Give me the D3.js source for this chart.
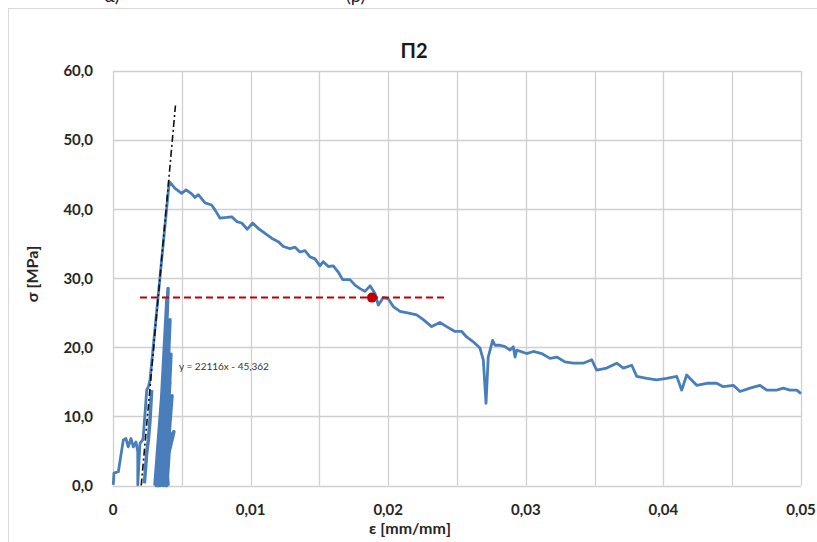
<!DOCTYPE html>
<html>
<head>
<meta charset="utf-8">
<script src="https://cdn.jsdelivr.net/npm/d3@7"></script>
<style>
  body { margin: 0; background: #fff; }
  svg { display: block; font-family: Lato, "Open Sans", sans-serif; }
</style>
</head>
<body>
<svg id="chart" width="817" height="542"></svg>
<script>
'use strict';
// main curve: early loading, final loading to peak, then softening branch
const strain = [0.00002, 0.00007, 0.00039, 0.00075, 0.00094, 0.00111, 0.00131, 0.00148, 0.00167, 0.00180,
  0.00180, 0.00196, 0.00216, 0.00220, 0.00233, 0.00245, 0.00257, 0.00269, 0.00409,
  0.00451, 0.00499, 0.00531, 0.00572, 0.00596, 0.00620, 0.00669, 0.00717, 0.00741, 0.00778,
  0.00826, 0.00863, 0.00899, 0.00935, 0.00976, 0.01015, 0.01056, 0.01105, 0.01153, 0.01201,
  0.01238, 0.01286, 0.01323, 0.01359, 0.01395, 0.01432, 0.01468, 0.01504, 0.01528, 0.01565,
  0.01601, 0.01637, 0.01669, 0.01722, 0.01759, 0.01795, 0.01831, 0.01868, 0.01904, 0.01928,
  0.01964, 0.02001, 0.02037, 0.02086, 0.02158, 0.02207, 0.02255, 0.02316, 0.02376, 0.02425,
  0.02485, 0.02534, 0.02570, 0.02618, 0.02667, 0.02691, 0.02711, 0.02727, 0.02759, 0.02776,
  0.02813, 0.02849, 0.02885, 0.02909, 0.02922, 0.02934, 0.03006, 0.03055, 0.03115, 0.03176,
  0.03225, 0.03285, 0.03345, 0.03418, 0.03479, 0.03515, 0.03588, 0.03661, 0.03709, 0.03770,
  0.03806, 0.03879, 0.03951, 0.04024, 0.04097, 0.04133, 0.04169, 0.04242, 0.04315, 0.04387,
  0.04435, 0.04508, 0.04557, 0.04629, 0.04702, 0.04751, 0.04823, 0.04871, 0.04920, 0.04969, 0.05000];
const stress = [0.1, 1.8, 2.0, 6.6, 6.8, 5.6, 6.8, 5.6, 6.3, 4.9,
  0.1, 6.1, 6.6, 7.1, 10.5, 13.8, 14.3, 15.3, 44.0,
  43.0, 42.3, 42.8, 42.2, 41.7, 42.1, 40.9, 40.6, 39.9, 38.7,
  38.8, 38.9, 38.2, 38.0, 37.1, 38.0, 37.2, 36.5, 35.8, 35.3,
  34.6, 34.3, 34.5, 33.8, 34.0, 33.1, 32.8, 31.8, 32.4, 31.7,
  31.8, 30.9, 29.8, 29.8, 29.0, 28.5, 28.1, 28.9, 27.8, 26.1,
  27.2, 27.0, 25.9, 25.2, 24.9, 24.7, 24.0, 23.0, 23.6, 23.0,
  22.3, 22.3, 21.5, 20.8, 19.9, 18.2, 11.9, 18.6, 21.0, 20.3,
  20.3, 20.1, 19.6, 20.1, 18.6, 19.6, 19.1, 19.4, 19.1, 18.4,
  18.6, 17.9, 17.7, 17.7, 18.2, 16.7, 17.0, 17.7, 17.0, 17.4,
  15.8, 15.5, 15.3, 15.5, 15.8, 13.8, 16.0, 14.5, 14.8, 14.8,
  14.3, 14.5, 13.6, 14.1, 14.5, 13.8, 13.8, 14.1, 13.8, 13.8, 13.3];

// unloading/reloading loops in the pre-peak region (null = break)
const cycleStrain = [0.00281, 0.00269, 0.00257, 0.00245, 0.00228, null,
  0.00305, 0.00378, 0.00320, 0.00392, 0.00334, 0.00400, 0.00349, 0.00414, 0.00363, 0.00421,
  0.00378, 0.00429, 0.00385, 0.00443, 0.00414, 0.00392, 0.00407, 0.00327, 0.00385, 0.00342,
  0.00414, 0.00313, 0.00363, 0.00400];
const cycleStress = [13.8, 9.5, 6.6, 4.7, 0.3, null,
  0.0, 19.0, 0.0, 27.0, 0.0, 28.5, 1.0, 24.0, 0.0, 19.0,
  0.0, 13.0, 3.0, 7.8, 7.0, 0.0, 22.0, 0.0, 24.0, 0.0,
  15.0, 0.0, 12.0, 0.0];

// linear fit of the elastic branch: y = 22116x - 45,362
const fitSlope = 22116, fitIntercept = -45.362;
const fitStressRange = [0, 55];
const fitLabel = 'y = 22116x - 45,362';

// marked point and its level line
const markStrain = 0.01882, markStress = 27.2;
const markLineStrain = [0.00196, 0.02427];

const xTicks = [0, 0.01, 0.02, 0.03, 0.04, 0.05];
const xTickLabels = ['0', '0,01', '0,02', '0,03', '0,04', '0,05'];
const xGrid = [0, 0.005, 0.01, 0.015, 0.02, 0.025, 0.03, 0.035, 0.04, 0.045, 0.05];
const yTicks = [0, 10, 20, 30, 40, 50, 60];
const yTickLabels = ['0,0', '10,0', '20,0', '30,0', '40,0', '50,0', '60,0'];

const svg = d3.select('#chart');
const x = d3.scaleLinear().domain([0, 0.05]).range([113, 801]);
const y = d3.scaleLinear().domain([0, 60]).range([485.5, 71]);

// chart area frame and the panel labels above it (cut by the page edge as in the source)
svg.append('rect')
  .attr('x', 8.5).attr('y', 8.5).attr('width', 830).attr('height', 560)
  .attr('fill', '#fff').attr('stroke', '#d9d9d9');
svg.append('text').attr('x', 104).attr('y', 2).attr('font-size', 18).attr('fill', '#222').text('α)');
svg.append('text').attr('x', 346).attr('y', 2).attr('font-size', 18).attr('fill', '#222').text('(β)');

// gridlines
const grid = svg.append('g');
grid.selectAll('line.h').data(yTicks).enter().append('line')
  .attr('x1', x(0)).attr('x2', x(0.05))
  .attr('y1', d => Math.round(y(d)) + 0.5).attr('y2', d => Math.round(y(d)) + 0.5)
  .attr('stroke', '#d0d0d0').attr('stroke-width', 1.3);
grid.selectAll('line.v').data(xGrid).enter().append('line')
  .attr('y1', y(0)).attr('y2', y(60))
  .attr('x1', d => Math.round(x(d)) + 0.5).attr('x2', d => Math.round(x(d)) + 0.5)
  .attr('stroke', '#d0d0d0').attr('stroke-width', 1.3);

// axis labels
svg.append('g').selectAll('text').data(yTicks).enter().append('text')
  .attr('x', 93).attr('y', d => y(d)).attr('dy', '0.36em')
  .attr('text-anchor', 'end').attr('font-size', 15).attr('font-weight', 'bold').attr('fill', '#262626')
  .text((d, i) => yTickLabels[i]);
svg.append('g').selectAll('text').data(xTicks).enter().append('text')
  .attr('x', d => x(d)).attr('y', 515)
  .attr('text-anchor', 'middle').attr('font-size', 15).attr('font-weight', 'bold').attr('fill', '#262626')
  .text((d, i) => xTickLabels[i]);

svg.append('text').attr('x', 414).attr('y', 58).attr('text-anchor', 'middle')
  .attr('font-size', 20).attr('font-weight', 'bold').attr('fill', '#1a1a1a').text('Π2');
svg.append('text').attr('x', 410).attr('y', 534).attr('text-anchor', 'middle')
  .attr('font-size', 16).attr('font-weight', 'bold').attr('fill', '#262626').text('ε [mm/mm]');
svg.append('text').attr('transform', 'translate(38,274) rotate(-90)').attr('text-anchor', 'middle')
  .attr('font-size', 16).attr('font-weight', 'bold').attr('fill', '#262626').text('σ [MPa]');

// data
const line = d3.line()
  .defined(d => d[0] !== null)
  .x(d => x(d[0])).y(d => y(d[1]));

svg.append('path')
  .datum(cycleStrain.map((s, i) => [s, cycleStress[i]]))
  .attr('d', line).attr('fill', 'none')
  .attr('stroke', '#4a7ebb').attr('stroke-width', 3.5).attr('stroke-linejoin', 'round');
svg.append('path')
  .datum(strain.map((s, i) => [s, stress[i]]))
  .attr('d', line).attr('fill', 'none')
  .attr('stroke', '#4a7ebb').attr('stroke-width', 2.8).attr('stroke-linejoin', 'round');

// trend line
const fitPts = fitStressRange.map(s => [(s - fitIntercept) / fitSlope, s]);
svg.append('path')
  .datum(fitPts).attr('d', line).attr('fill', 'none')
  .attr('stroke', '#111').attr('stroke-width', 1.6).attr('stroke-dasharray', '7,3,2,3');
svg.append('text').attr('x', 179).attr('y', 370)
  .attr('font-size', 10).attr('fill', '#333').text(fitLabel);

// level line and marker
svg.append('line')
  .attr('x1', x(markLineStrain[0])).attr('x2', x(markLineStrain[1]))
  .attr('y1', y(markStress)).attr('y2', y(markStress))
  .attr('stroke', '#c00000').attr('stroke-width', 2).attr('stroke-dasharray', '7,4');
svg.append('circle')
  .attr('cx', x(markStrain)).attr('cy', y(markStress)).attr('r', 5)
  .attr('fill', '#c00000');
</script>
</body>
</html>
